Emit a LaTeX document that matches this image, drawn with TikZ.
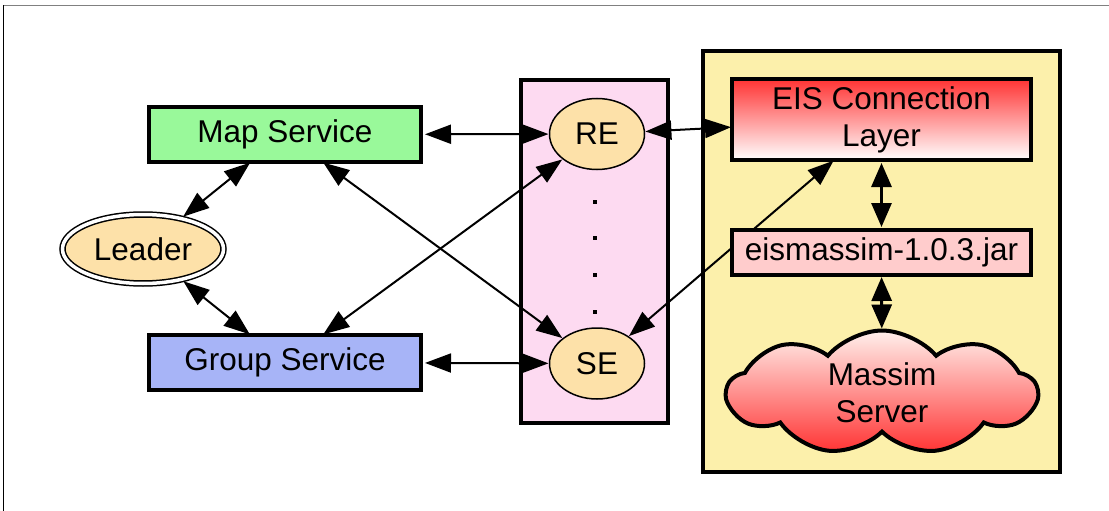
\documentclass[tikz,border=0pt]{standalone}
\usepackage{fontspec}
\setmainfont{Liberation Sans}
\usetikzlibrary{arrows.meta,shapes.geometric,shapes.symbols}
\definecolor{mapgreen}{HTML}{99F99A}
\definecolor{groupblue}{HTML}{A7B4F7}
\definecolor{leaderfill}{HTML}{FDE1A9}
\definecolor{pinkbg}{HTML}{FDDAF1}
\definecolor{yellowbg}{HTML}{FCF0AB}
\definecolor{jarfill}{HTML}{FFCCCC}
\definecolor{eisred}{HTML}{FF3333}
\definecolor{cloudtop}{HTML}{FFF0EC}
\definecolor{framegray}{HTML}{808080}
\begin{document}
\begin{tikzpicture}[x=1pt,y=-1pt,
  every node/.style={font=\fontsize{31.5}{37}\selectfont, inner sep=0pt, outer sep=0pt},
  servbox/.style={rectangle, draw, line width=4pt, minimum width=272, minimum height=55},
  innerbox/.style={rectangle, draw, line width=4pt, minimum width=299},
  container/.style={rectangle, draw, line width=4pt},
  ell/.style={ellipse, draw, line width=1.5pt, fill=leaderfill, minimum width=95, minimum height=71},
  link/.style={line width=2pt, {Triangle[length=26pt,width=19pt]}-{Triangle[length=26pt,width=19pt]}},
  biglink/.style={line width=3pt, {Triangle[length=24pt,width=20pt]}-{Triangle[length=24pt,width=20pt]}},
  ]
\useasboundingbox (0,0) rectangle (1109,511);
% outer frame lines
\draw[framegray, line width=1.5pt] (3,5.5) -- (1109,5.5);
\draw[black, line width=1pt] (3,5) -- (3,511);

% containers
\node[container, fill=pinkbg, minimum width=147, minimum height=343] (pinkbox) at (594.5,251.5) {};
\node[container, fill=yellowbg, minimum width=357, minimum height=421] (yellowbox) at (881.5,261.5) {};

% left nodes
\node[servbox, fill=mapgreen] (map) at (285,134.5) {Map Service};
\node[servbox, fill=groupblue] (group) at (285,362.5) {Group Service};
\node[ellipse, draw, line width=1.5pt, double=white, double distance=3.5pt, fill=leaderfill,
      minimum width=161, minimum height=69] (leader) at (143,249) {Leader};

% middle
\node[ell] (re) at (597,134) {RE};
\node[ell] (se) at (597,363.5) {SE};
\foreach \yy in {202,238,275,312} \fill (593,\yy-2) rectangle (597,\yy+2);

% right
\node[innerbox, minimum height=81, top color=eisred, bottom color=white, align=center] (eis) at (881.5,119.5) {EIS Connection\\Layer};
\node[cloud, draw, line width=4pt, cloud puffs=9, cloud puff arc=100, aspect=2.6,
      minimum width=310, minimum height=124, top color=cloudtop, bottom color=eisred, align=center] (massim) at (882,392.5) {Massim\\Server};

% connectors
\draw[link, shorten <=4pt, shorten >=1pt] (map) -- (re);
\draw[link, shorten <=4pt, shorten >=1pt] (group) -- (se);
\draw[link, shorten <=3pt, shorten >=1pt] (leader) -- (map);
\draw[link, shorten <=3pt, shorten >=1pt] (leader) -- (group);
\draw[link, shorten <=1pt, shorten >=1pt] (map) -- (se);
\draw[link, shorten <=1pt, shorten >=1pt] (group) -- (re);
\draw[link, shorten <=1pt, shorten >=1pt] (re) -- (eis);
\draw[link, shorten <=1pt, shorten >=1pt] (se) -- (eis);

\node[innerbox, minimum height=45, fill=jarfill] (jar) at (881.5,252.5) {eismassim-1.0.3.jar};

\draw[biglink, shorten <=3pt, shorten >=3pt] (eis) -- (jar);
\draw[biglink, shorten <=2pt, shorten >=2pt] (jar) -- (massim);
\end{tikzpicture}
\end{document}
